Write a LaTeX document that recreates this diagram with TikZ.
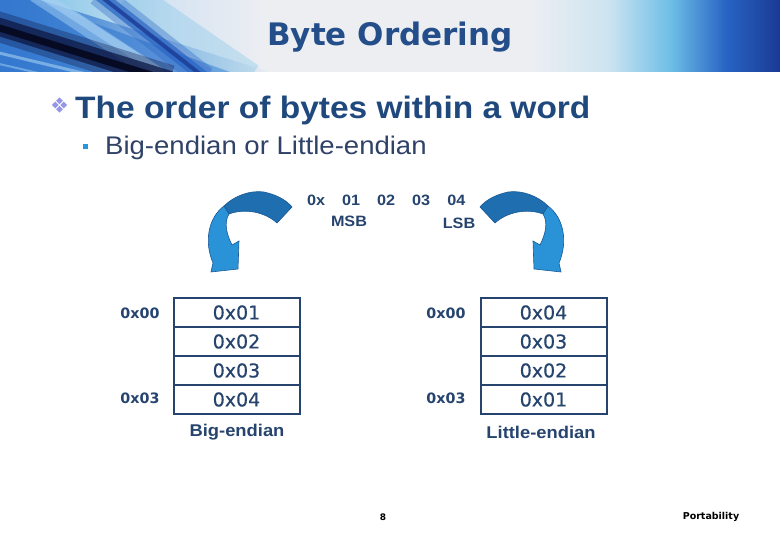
\documentclass[tikz,border=0pt]{standalone}
\usepackage{fontspec}
\setmainfont{Liberation Sans}
\newfontfamily\headfont{DejaVu Sans}
\newfontfamily\cellfont{DejaVu Sans}[FakeBold=0.6]
\newfontfamily\wordfont{Liberation Sans}[FakeStretch=1.08]
\usetikzlibrary{positioning,fadings}

\definecolor{titleblue}{RGB}{36,78,138}
\definecolor{slideblue}{RGB}{31,73,125}
\definecolor{subtext}{RGB}{48,66,104}
\definecolor{cellline}{RGB}{38,68,110}
\definecolor{bulletlav}{RGB}{150,150,232}
\definecolor{bulletsky}{RGB}{40,150,222}
\definecolor{arrdark}{RGB}{30,110,176}
\definecolor{arrlight}{RGB}{42,147,215}
\definecolor{arrline}{RGB}{24,88,150}
\definecolor{bandblue}{RGB}{52,120,208}
\definecolor{bandpale}{RGB}{215,228,242}
\definecolor{bandgray}{RGB}{236,238,242}
\definecolor{bandice}{RGB}{205,228,240}
\definecolor{bandsky}{RGB}{110,190,230}
\definecolor{bandmid}{RGB}{40,100,196}
\definecolor{banddeep}{RGB}{26,58,148}
\definecolor{bandnavy}{RGB}{14,24,68}
\definecolor{bandcore}{RGB}{6,10,34}
\definecolor{bandlight}{RGB}{165,208,242}

\pgfdeclarehorizontalshading{bandshade}{100bp}{color(0bp)=(bandsky); color(25bp)=(bandsky);
  color(36bp)=(bandpale); color(42bp)=(bandgray); color(59bp)=(bandgray); color(64bp)=(bandice);
  color(68bp)=(bandsky); color(71.5bp)=(bandmid); color(75bp)=(banddeep); color(100bp)=(banddeep)}

% curved arrow, drawn once and mirrored
\newcommand\bendarrow{%
  \filldraw[arrback] (224,206) .. controls (234,196) and (250,190) .. (264,192)
    .. controls (278,195) and (287,201) .. (292,207) -- (277,223)
    .. controls (265,212) and (245,208) .. (229,214) -- cycle;
  \filldraw[arrfront] (224,206) .. controls (208,218) and (204,242) .. (213,263)
    -- (211,272) -- (238,269) -- (239,241) -- (232,245)
    .. controls (226,233) and (224,222) .. (229,214) -- cycle;}

\begin{document}
\begin{tikzpicture}[x=1pt,y=-1pt,
    cell/.style={draw=cellline, line width=2pt, minimum width=126pt, minimum height=29pt,
                 inner sep=0pt, text=cellline, font=\cellfont\fontsize{19}{19}\selectfont},
    addr/.style={text=cellline, font=\headfont\bfseries\fontsize{14.3}{15}\selectfont},
    caption/.style={text=cellline, font=\wordfont\bfseries\fontsize{17}{17}\selectfont},
    hexword/.style={text=cellline, font=\wordfont\bfseries\fontsize{15}{15}\selectfont},
    arrback/.style={fill=arrdark, draw=arrline, line width=0.6pt},
    arrfront/.style={fill=arrlight, draw=arrline, line width=0.6pt}]
    \useasboundingbox (0,0) rectangle (780,540);
    \fill[white] (0,0) rectangle (780,540);

    % Header band
    \fill[shading=bandshade] (0,0) rectangle (780,72);
    \begin{scope}
        \clip (0,0) rectangle (780,72);
        \fill[bandblue, path fading=east] (0,0) -- (40,0) -- (270,72) -- (0,72) -- cycle;
        \fill[bandblue, opacity=0.6] (0,0) -- (30,0) -- (230,72) -- (0,72) -- cycle;
        \draw[line width=16pt, bandlight, opacity=0.5] (35,-6) -- (160,76);
        \draw[line width=8pt, bandlight, opacity=0.6] (40,-6) -- (160,72);
        \draw[line width=30pt, bandsky, opacity=0.3] (128,-6) -- (250,78);
        \draw[line width=24pt, bandmid, opacity=0.35] (98,-6) -- (205,78);
        \draw[line width=12pt, bandmid, opacity=0.7] (98,-6) -- (205,78);
        \draw[line width=4pt, banddeep, opacity=0.8] (98,-6) -- (205,78);
        \draw[line width=30pt, bandnavy, opacity=0.35] (-10,24) -- (170,80);
        \draw[line width=18pt, bandnavy, opacity=0.75] (-10,24) -- (170,80);
        \draw[line width=7pt, bandcore] (-10,25) -- (170,81);
        \draw[line width=3pt, bandlight, opacity=0.6] (-5,52) -- (95,76);
        \draw[line width=2pt, bandlight, opacity=0.5] (-5,63) -- (60,78);
    \end{scope}
    \node[font=\headfont\bfseries\fontsize{31}{31}\selectfont, text=titleblue, anchor=base]
        (title) at (390,46) {Byte Ordering};

    % Bullets
    \foreach \dx/\dy in {0/-4.3, -4.3/0, 4.3/0, 0/4.3}
        \fill[bulletlav] (59.5+\dx,105+\dy) +(0,-3.4) -- +(3.4,0) -- +(0,3.4) -- +(-3.4,0) -- cycle;
    \node[font=\wordfont\bfseries\fontsize{31}{31}\selectfont, text=slideblue, anchor=base west, inner sep=0pt]
        (point) at (75,119) {The order of bytes within a word};
    \fill[bulletsky] (82.5,144) rectangle (88,149.5);
    \node[font=\wordfont\fontsize{25.5}{26}\selectfont, text=subtext, anchor=base west, inner sep=0pt]
        (subpoint) at (105,155) {Big-endian or Little-endian};

    % The word and its ends
    \node[hexword, anchor=base west, inner sep=0pt] (hex) at (307,206)
        {0x\hspace{17pt}01\hspace{17pt}02\hspace{17pt}03\hspace{17pt}04};
    \node[hexword, anchor=base, inner sep=0pt] (msb) at (349,227) {MSB};
    \node[hexword, anchor=base, inner sep=0pt] (lsb) at (459,229) {LSB};

    % Curved arrows
    \bendarrow
    \begin{scope}[xshift=772pt, xscale=-1]
        \bendarrow
    \end{scope}

    % Big-endian
    \node[cell] (be1) at (236.5,312.5) {0x01};
    \node[cell] (be2) at (236.5,341.5) {0x02};
    \node[cell] (be3) at (236.5,370.5) {0x03};
    \node[cell] (be4) at (236.5,399.5) {0x04};
    \node[addr] (bea) at (140,313) {0x00};
    \node[addr] (bed) at (140,398) {0x03};
    \node[caption] (becap) at (237,432) {Big-endian};

    % Little-endian
    \node[cell] (le1) at (543.5,312.5) {0x04};
    \node[cell] (le2) at (543.5,341.5) {0x03};
    \node[cell] (le3) at (543.5,370.5) {0x02};
    \node[cell] (le4) at (543.5,399.5) {0x01};
    \node[addr] (lea) at (446,313) {0x00};
    \node[addr] (led) at (446,398) {0x03};
    \node[caption] (lecap) at (541,432) {Little-endian};

    % Footer
    \node[font=\headfont\bfseries\fontsize{9}{9}\selectfont] (page) at (383,517) {8};
    \node[font=\headfont\bfseries\fontsize{9.5}{10}\selectfont] (foot) at (711,517) {Portability};
\end{tikzpicture}
\end{document}
